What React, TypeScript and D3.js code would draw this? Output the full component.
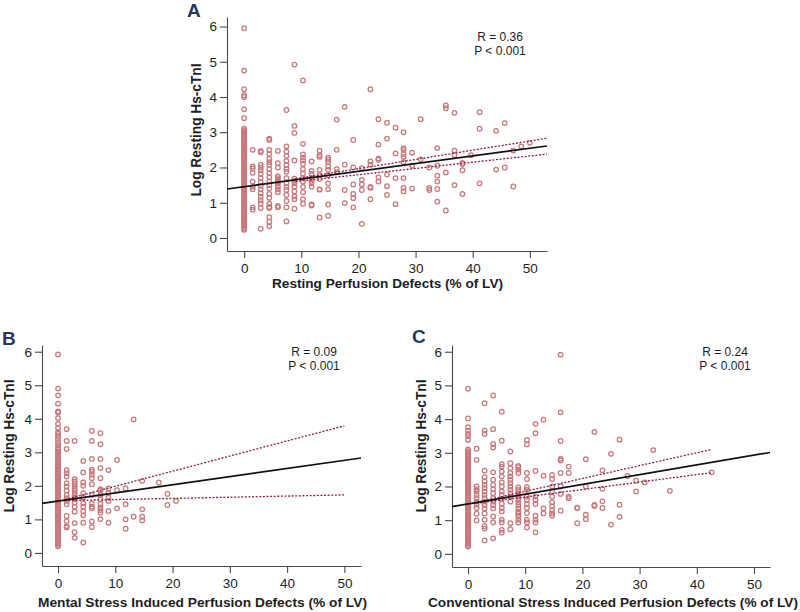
import React, { useEffect, useRef } from 'react';
import * as d3 from 'd3';

type Column = [number, number[]];
type Seg = [number, number][];

const xTicks = [0, 10, 20, 30, 40, 50];
const yTicks = [0, 1, 2, 3, 4, 5, 6];
const yTitle = 'Log Resting Hs-cTnI';

// A: resting perfusion defects
const restingZero = [
  0.23, 0.27, 0.32, 0.36, 0.41, 0.45, 0.5, 0.53, 0.58, 0.62, 0.67, 0.71, 0.76, 0.8, 0.84, 0.89,
  0.93, 0.98, 1.02, 1.07, 1.11, 1.16, 1.2, 1.25, 1.29, 1.34, 1.38, 1.42, 1.47, 1.51, 1.56, 1.6,
  1.65, 1.69, 1.74, 1.78, 1.83, 1.87, 1.91, 1.96, 2.0, 2.05, 2.09, 2.14, 2.18, 2.23, 2.27, 2.32,
  2.36, 2.4, 2.45, 2.49, 2.54, 2.58, 2.63, 2.67, 2.72, 2.76, 2.8, 2.85, 2.89, 2.94, 2.98, 3.02,
  3.06, 3.1, 3.4, 3.65, 4.0, 4.05, 4.22, 4.75, 5.95,
];
const restingCols: Column[] = [
  [0, restingZero],
  [1.5, [2.5, 2.03, 1.97, 1.85, 1.6, 1.45, 1.38, 0.87, 0.8]],
  [2.9, [2.47, 2.43, 2.07, 2.0, 1.92, 1.82, 1.7, 1.58, 1.48, 1.38, 1.27, 1.17, 1.07, 0.98, 0.85, 0.26]],
  [4.4, [2.82, 2.78, 2.5, 2.38, 2.24, 2.15, 2.08, 1.95, 1.84, 1.72, 1.6, 1.5, 1.4, 1.25, 1.14, 0.97, 0.88, 0.85, 0.59, 0.46, 0.33]],
  [5.9, [2.47, 2.12, 2.0, 1.75, 1.7, 1.65, 1.6, 1.55, 1.46, 1.38, 1.3, 0.91, 0.87]],
  [7.4, [3.63, 2.6, 2.45, 2.33, 2.18, 2.07, 1.96, 1.88, 1.7, 1.55, 1.45, 1.36, 1.22, 1.05, 0.87, 0.47]],
  [8.8, [4.92, 3.18, 2.98, 2.2, 1.68, 1.62, 1.55, 1.46, 1.32, 1.18, 1.1, 0.83]],
  [10.3, [4.47, 2.67, 2.37, 2.28, 2.2, 2.1, 1.95, 1.83, 1.7, 1.6, 1.45, 1.3, 1.1, 0.97]],
  [11.8, [2.17, 1.9, 1.82, 1.7, 1.62, 1.55, 1.45, 0.95, 0.92]],
  [13.2, [2.48, 2.35, 2.3, 1.93, 1.78, 1.68, 1.38, 1.37, 0.58]],
  [14.7, [2.28, 2.22, 2.15, 2.03, 1.93, 1.78, 1.55, 1.38, 0.95, 0.63]],
  [16.2, [3.36, 2.5, 1.95, 1.87]],
  [17.6, [3.72, 2.08, 1.36, 0.99]],
  [19.1, [2.78, 2.0, 1.52, 1.25, 1.13, 0.87]],
  [20.6, [1.98, 1.65, 1.52, 1.36, 0.4]],
  [22.1, [4.22, 2.17, 2.08, 1.45, 1.42, 1.1]],
  [23.5, [3.37, 2.65, 2.25, 2.22, 1.72, 1.6]],
  [25.0, [3.27, 2.82, 1.8, 1.47, 1.22]],
  [26.5, [3.13, 2.4, 1.7, 0.96]],
  [27.9, [3.0, 2.55, 2.5, 2.38, 2.3, 2.15, 1.7, 1.42, 1.32]],
  [29.4, [2.42, 2.05, 1.4]],
  [30.9, [3.37, 2.23]],
  [32.4, [2.0, 1.42, 1.36]],
  [33.8, [2.55, 2.05, 1.77, 1.6, 1.39, 1.03]],
  [35.3, [3.76, 3.68, 1.86, 0.78]],
  [36.8, [3.55, 2.48, 2.35, 1.5]],
  [38.2, [2.13, 2.1, 1.92, 1.25]],
  [39.7, [2.35]],
  [41.2, [3.57, 3.1, 1.55]],
  [44.1, [3.04, 1.94]],
  [45.6, [3.26, 2.0]],
  [47.1, [2.48, 1.46]],
  [48.5, [2.6]],
  [50.0, [2.7]],
];
const restingFit: Seg = [[-3, 1.39], [53, 2.61]];
const restingUpper: Seg = [[9, 1.68], [53, 2.83]];
const restingLower: Seg = [[9, 1.6], [53, 2.38]];

// B: mental stress induced perfusion defects
const mentalZero = [
  0.2, 0.24, 0.29, 0.33, 0.38, 0.42, 0.47, 0.51, 0.56, 0.6, 0.65, 0.69, 0.74, 0.78, 0.83, 0.87,
  0.92, 0.96, 1.01, 1.05, 1.1, 1.14, 1.19, 1.23, 1.28, 1.32, 1.37, 1.41, 1.46, 1.5, 1.55, 1.59,
  1.64, 1.68, 1.73, 1.77, 1.82, 1.86, 1.91, 1.95, 2.0, 2.04, 2.09, 2.13, 2.18, 2.22, 2.27, 2.31,
  2.36, 2.4, 2.45, 2.49, 2.54, 2.58, 2.63, 2.67, 2.72, 2.76, 2.81, 2.85, 2.9, 2.94, 2.99, 3.03,
  3.08, 3.13, 3.22, 3.3, 3.4, 3.48, 3.55, 3.6, 3.72, 3.85, 4.02, 4.18, 4.22, 4.45, 4.7, 4.9, 5.92,
];
const mentalCols: Column[] = [
  [0, mentalZero],
  [1.5, [3.69, 3.34, 3.1, 2.47, 2.38, 2.28, 2.08, 1.98, 1.86, 1.73, 1.63, 1.55, 1.45, 1.1, 0.95, 0.8, 0.76]],
  [2.9, [3.34, 2.2, 2.13, 2.06, 2.0, 1.93, 1.86, 1.78, 1.73, 1.66, 1.6, 1.5, 1.38, 1.23, 0.89, 0.62, 0.45]],
  [4.4, [2.74, 2.4, 2.1, 2.0, 1.78, 1.65, 1.48, 1.38, 1.24, 1.12, 0.9, 0.31]],
  [5.9, [3.64, 3.34, 2.8, 2.48, 2.42, 2.33, 2.23, 2.05, 1.73, 1.47, 1.38, 1.33, 0.94, 0.77]],
  [7.4, [3.57, 3.24, 2.8, 2.53, 2.23, 1.9, 1.86, 1.73, 1.6, 1.46, 1.36, 1.28, 1.2, 1.01]],
  [8.8, [2.47, 1.92, 1.78, 1.65, 1.55, 1.25, 0.9]],
  [10.3, [2.77, 1.87, 1.33]],
  [11.8, [1.92, 1.45, 1.0, 0.72]],
  [13.2, [3.98, 1.08]],
  [14.7, [2.15, 1.3, 1.08, 0.97]],
  [17.6, [2.1]],
  [19.1, [1.76, 1.43]],
  [20.6, [1.55]],
];
const mentalFit: Seg = [[-2.8, 1.48], [52.9, 2.83]];
const mentalUpper: Seg = [[1.2, 1.59], [50, 3.79]];
const mentalLower: Seg = [[1.2, 1.56], [50, 1.73]];

// C: conventional stress induced perfusion defects
const convZero = [
  0.22, 0.26, 0.31, 0.35, 0.4, 0.44, 0.49, 0.53, 0.58, 0.62, 0.67, 0.71, 0.76, 0.8, 0.85, 0.89,
  0.94, 0.98, 1.03, 1.07, 1.12, 1.16, 1.21, 1.25, 1.3, 1.34, 1.39, 1.43, 1.48, 1.52, 1.57, 1.61,
  1.66, 1.7, 1.75, 1.79, 1.84, 1.88, 1.93, 1.97, 2.02, 2.06, 2.11, 2.15, 2.2, 2.24, 2.29, 2.33,
  2.38, 2.42, 2.47, 2.51, 2.56, 2.6, 2.65, 2.69, 2.74, 2.78, 2.83, 2.87, 2.92, 2.96, 3.01, 3.05,
  3.1, 3.38, 3.5, 3.56, 3.66, 3.76, 4.02, 4.9,
];
const convCols: Column[] = [
  [0, convZero],
  [1.5, [3.12, 2.79, 2.0, 1.92, 1.85, 1.75, 1.65, 1.55, 1.46, 1.36, 1.19, 0.99]],
  [2.9, [4.47, 3.66, 3.56, 2.47, 2.28, 2.15, 2.05, 1.95, 1.85, 1.75, 1.65, 1.55, 1.45, 1.35, 1.2, 1.01, 0.82, 0.75, 0.4]],
  [4.4, [4.7, 3.7, 3.26, 3.16, 2.42, 2.2, 2.05, 1.92, 1.8, 1.65, 1.55, 1.45, 1.35, 1.11, 0.93, 0.46]],
  [5.9, [4.22, 3.36, 2.66, 2.59, 2.45, 2.3, 2.12, 2.0, 1.85, 1.75, 1.63, 1.49, 1.36, 1.26, 1.01, 0.93, 0.71, 0.63]],
  [7.4, [3.04, 2.69, 2.54, 2.4, 2.3, 2.2, 2.1, 2.0, 1.9, 1.8, 1.7, 1.55, 0.91, 0.73]],
  [8.8, [2.61, 2.57, 2.5, 2.4, 1.97, 1.9, 1.85, 1.78, 1.7, 1.62, 1.53, 1.45, 1.35, 1.26, 1.19, 1.11, 1.01, 0.93]],
  [10.3, [3.38, 3.25, 2.4, 2.22, 1.98, 1.9, 1.7, 1.6, 1.48, 1.36, 1.21, 1.01, 0.93, 0.78]],
  [11.8, [3.86, 3.58, 2.46, 1.7, 1.6, 1.48, 1.13, 1.01, 0.93, 0.64]],
  [13.2, [3.98, 2.32, 1.35, 1.2]],
  [14.7, [2.34, 2.22, 2.0, 1.85, 1.7, 1.53, 1.41, 1.3, 1.2, 1.13]],
  [16.2, [5.91, 4.2, 3.35, 2.82, 2.77, 2.4, 2.0, 1.78, 1.28]],
  [17.6, [2.59, 2.4, 1.7, 1.65]],
  [19.1, [1.37, 1.36, 0.91]],
  [20.6, [2.81, 2.0, 1.16, 1.03]],
  [22.1, [3.62, 1.45, 1.42]],
  [23.5, [2.48, 1.93, 1.56, 1.36]],
  [25.0, [2.97, 0.87]],
  [26.5, [3.39, 1.46, 1.1]],
  [27.9, [2.31]],
  [29.4, [2.17, 1.85]],
  [30.9, [2.12]],
  [32.4, [3.08]],
  [35.3, [1.87]],
  [42.6, [2.42]],
];
const convFit: Seg = [[-2.8, 1.4], [52.8, 3.01]];
const convUpper: Seg = [[1.5, 1.53], [42.6, 3.1]];
const convLower: Seg = [[1.5, 1.5], [42.6, 2.41]];

const FONT = '"Liberation Sans", Arial, Helvetica, sans-serif';
const axisColor = '#4a4a4a';
const dotColor = '#c7787b';
const ciColor = '#8e1f47';

type PanelProps = {
  frame: { left: number; right: number; top: number; bottom: number };
  xDomain: [number, number];
  yDomain: [number, number];
  cols: Column[];
  fit: Seg;
  upper: Seg;
  lower: Seg;
  letter: string;
  letterPos: [number, number];
  xLabel: string;
  xLabelBox: [number, number, number]; // center x, baseline y, width
  yLabelPos: [number, number];
  stats: [string, string];
  statsPos: [number, number];
};

const Panel = (p: PanelProps) => {
  const xRef = useRef<SVGGElement | null>(null);
  const yRef = useRef<SVGGElement | null>(null);
  const x = d3.scaleLinear().domain(p.xDomain).range([p.frame.left, p.frame.right]);
  const y = d3.scaleLinear().domain(p.yDomain).range([p.frame.bottom, p.frame.top]);

  useEffect(() => {
    if (!xRef.current || !yRef.current) return;
    const styleAxis = (g: d3.Selection<SVGGElement, unknown, null, undefined>) => {
      g.attr('font-size', 13.5).attr('font-family', FONT);
      g.select('.domain').attr('stroke', axisColor).attr('stroke-width', 1.1);
      g.selectAll('.tick line').attr('stroke', axisColor).attr('stroke-width', 1.1);
      g.selectAll('.tick text').attr('fill', '#1e1e1e');
    };
    const fmt = d3.format('d');
    const gx = d3.select(xRef.current);
    gx.call(d3.axisBottom(x).tickValues(xTicks).tickFormat(fmt).tickSize(7).tickPadding(5).tickSizeOuter(0));
    styleAxis(gx);
    const gy = d3.select(yRef.current);
    gy.call(d3.axisLeft(y).tickValues(yTicks).tickFormat(fmt).tickSize(7).tickPadding(3).tickSizeOuter(0));
    styleAxis(gy);
  });

  const line = d3
    .line<[number, number]>()
    .x((d) => x(d[0]))
    .y((d) => y(d[1]));
  const points = p.cols.flatMap(([cx, ys]) => ys.map((v) => [cx, v] as [number, number]));

  return (
    <g>
      <g ref={xRef} transform={`translate(0,${p.frame.bottom})`} />
      <g ref={yRef} transform={`translate(${p.frame.left},0)`} />
      {points.map((d, i) => (
        <circle key={i} cx={x(d[0])} cy={y(d[1])} r={2.3} fill="none" stroke={dotColor} strokeWidth={1.25} />
      ))}
      <path d={line(p.upper) ?? ''} fill="none" stroke={ciColor} strokeWidth={1.3} strokeDasharray="2,1.6" />
      <path d={line(p.lower) ?? ''} fill="none" stroke={ciColor} strokeWidth={1.3} strokeDasharray="2,1.6" />
      <path d={line(p.fit) ?? ''} fill="none" stroke="#111" strokeWidth={1.7} />
      <text x={p.letterPos[0]} y={p.letterPos[1]} fontFamily={FONT} fontWeight="bold" fontSize={19} fill="#2b3856">
        {p.letter}
      </text>
      <text
        x={p.xLabelBox[0]}
        y={p.xLabelBox[1]}
        textAnchor="middle"
        fontFamily={FONT}
        fontWeight="bold"
        fontSize={13.5}
        fill="#1e1e1e"
        textLength={p.xLabelBox[2]}
        lengthAdjust="spacingAndGlyphs"
      >
        {p.xLabel}
      </text>
      <text
        transform={`translate(${p.yLabelPos[0]},${p.yLabelPos[1]}) rotate(-90)`}
        textAnchor="middle"
        fontFamily={FONT}
        fontWeight="bold"
        fontSize={14}
        fill="#1e1e1e"
        textLength={133}
        lengthAdjust="spacingAndGlyphs"
      >
        {yTitle}
      </text>
      <text x={p.statsPos[0]} y={p.statsPos[1]} textAnchor="middle" fontFamily={FONT} fontSize={12} fill="#1e1e1e">
        {p.stats[0]}
      </text>
      <text x={p.statsPos[0]} y={p.statsPos[1] + 14} textAnchor="middle" fontFamily={FONT} fontSize={12} fill="#1e1e1e">
        {p.stats[1]}
      </text>
    </g>
  );
};

const App = () => (
  <svg width={800} height={612} style={{ position: 'absolute', left: 0, top: 0, background: '#fff' }}>
    <Panel
      frame={{ left: 227, right: 547, top: 17, bottom: 251 }}
      xDomain={[-3, 53]}
      yDomain={[-0.37, 6.27]}
      cols={restingCols}
      fit={restingFit}
      upper={restingUpper}
      lower={restingLower}
      letter="A"
      letterPos={[187, 17]}
      xLabel="Resting Perfusion Defects (% of LV)"
      xLabelBox={[387.5, 288, 231]}
      yLabelPos={[201, 130]}
      stats={['R = 0.36', 'P < 0.001']}
      statsPos={[500, 41]}
    />
    <Panel
      frame={{ left: 42, right: 361, top: 345, bottom: 566 }}
      xDomain={[-2.8, 52.9]}
      yDomain={[-0.39, 6.2]}
      cols={mentalCols}
      fit={mentalFit}
      upper={mentalUpper}
      lower={mentalLower}
      letter="B"
      letterPos={[2, 345]}
      xLabel="Mental Stress Induced Perfusion Defects (% of LV)"
      xLabelBox={[202.5, 607, 329]}
      yLabelPos={[14, 446]}
      stats={['R = 0.09', 'P < 0.001']}
      statsPos={[314, 356]}
    />
    <Panel
      frame={{ left: 452, right: 770, top: 345, bottom: 567 }}
      xDomain={[-2.8, 52.8]}
      yDomain={[-0.39, 6.2]}
      cols={convCols}
      fit={convFit}
      upper={convUpper}
      lower={convLower}
      letter="C"
      letterPos={[412, 343]}
      xLabel="Conventional Stress Induced Perfusion Defects (% of LV)"
      xLabelBox={[613, 607, 370]}
      yLabelPos={[426, 446]}
      stats={['R = 0.24', 'P < 0.001']}
      statsPos={[725, 356]}
    />
  </svg>
);

export default App;
